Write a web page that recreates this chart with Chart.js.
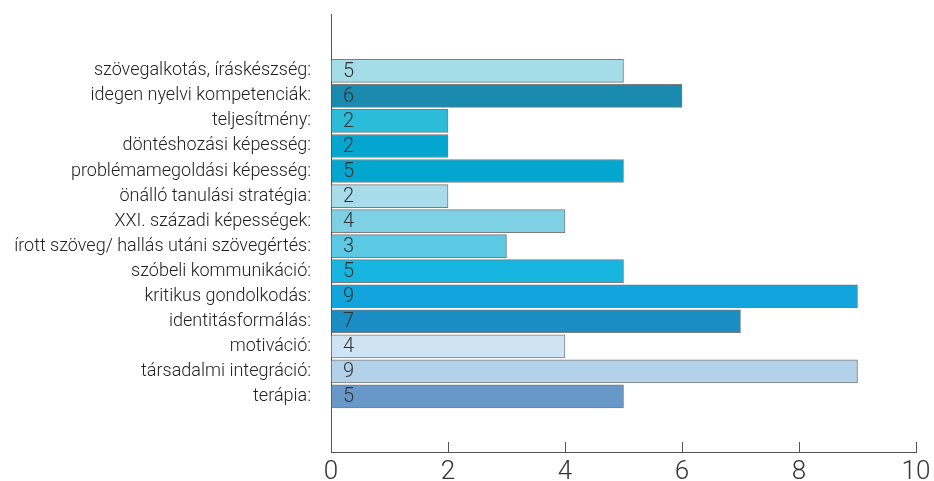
<!DOCTYPE html>
<html>
<head>
<meta charset="utf-8">
<script src="https://cdn.jsdelivr.net/npm/chart.js@4.4.0/dist/chart.umd.min.js"></script>
<style>
  html, body { margin: 0; padding: 0; background: #fff; }
  #wrap { width: 934px; height: 481px; }
</style>
</head>
<body>
<div id="wrap"><canvas id="myChart" width="934" height="481"></canvas></div>
<script>
var categories = [
  'szövegalkotás, íráskészség:',
  'idegen nyelvi kompetenciák:',
  'teljesítmény:',
  'döntéshozási képesség:',
  'problémamegoldási képesség:',
  'önálló tanulási stratégia:',
  'XXI. századi képességek:',
  'írott szöveg/ hallás utáni szövegértés:',
  'szóbeli kommunikáció:',
  'kritikus gondolkodás:',
  'identitásformálás:',
  'motiváció:',
  'társadalmi integráció:',
  'terápia:'
];
var values = [5, 6, 2, 2, 5, 2, 4, 3, 5, 9, 7, 4, 9, 5];
var xTicks = [0, 2, 4, 6, 8, 10];

var barColors = [
  '#a4dce8', '#1b8aaf', '#2bbcda', '#03a6cf', '#03a6cf', '#a8dcea', '#7ed0e5',
  '#5cc9e4', '#17b6e0', '#12a4dd', '#1a8dc4', '#cee4f5', '#b3d1e9', '#6898c8'
];

var fontFam = "'Roboto', 'Liberation Sans', sans-serif";

var valueLabels = {
  id: 'valueLabels',
  afterDatasetsDraw: function(chart) {
    var c = chart.ctx;
    var meta = chart.getDatasetMeta(0);
    c.save();
    c.font = '300 20px ' + fontFam;
    c.fillStyle = '#333';
    c.textAlign = 'left';
    c.textBaseline = 'middle';
    meta.data.forEach(function(bar, i) {
      c.fillText(String(values[i]), bar.base + 12, bar.y + 1);
    });
    c.restore();
  }
};

// x ticks point up into the chart area
var innerTicks = {
  id: 'innerTicks',
  afterDraw: function(chart) {
    var c = chart.ctx;
    var xs = chart.scales.x;
    var bottom = chart.chartArea.bottom;
    c.save();
    c.strokeStyle = '#555';
    c.lineWidth = 1;
    xTicks.forEach(function(t) {
      if (t === 0) return;
      var px = Math.round(xs.getPixelForValue(t)) + 0.5;
      c.beginPath();
      c.moveTo(px, bottom);
      c.lineTo(px, bottom - 10);
      c.stroke();
    });
    c.restore();
  }
};

var ctx = document.getElementById('myChart').getContext('2d');
var chart = new Chart(ctx, {
  type: 'bar',
  data: {
    datasets: [{
      data: values.map(function(v, i) { return { x: v, y: i }; }),
      backgroundColor: barColors,
      borderColor: 'rgba(70,70,70,0.7)',
      borderWidth: 1,
      borderSkipped: false,
      barThickness: 23
    }]
  },
  options: {
    indexAxis: 'y',
    responsive: false,
    animation: false,
    layout: { padding: { top: 14, right: 18, left: 0, bottom: 0 } },
    plugins: {
      legend: { display: false },
      tooltip: { enabled: false }
    },
    scales: {
      x: {
        type: 'linear',
        min: 0,
        max: 10,
        afterBuildTicks: function(s) {
          s.ticks = xTicks.map(function(v) { return { value: v }; });
        },
        afterFit: function(s) {
          s.height = 29;
          s.paddingLeft = 0;
          s.paddingRight = 0;
        },
        grid: { display: false, drawTicks: false },
        border: { display: true, color: '#555', width: 1 },
        ticks: {
          padding: 5,
          color: '#333',
          font: { family: fontFam, size: 26, weight: '300' }
        }
      },
      y: {
        type: 'linear',
        bounds: 'data',
        offset: false,
        reverse: true,
        min: -2.27,
        max: 15.22,
        afterBuildTicks: function(s) {
          s.ticks = categories.map(function(c, i) { return { value: i }; });
        },
        afterFit: function(s) {
          s.width = 331;
          s.paddingTop = 0;
          s.paddingBottom = 0;
        },
        grid: { display: false, drawTicks: false },
        border: { display: true, color: '#555', width: 1 },
        ticks: {
          autoSkip: false,
          padding: 20,
          color: '#222',
          font: { family: fontFam, size: 18, weight: '300' },
          callback: function(v) { return categories[v] || ''; }
        }
      }
    }
  },
  plugins: [valueLabels, innerTicks]
});
</script>
</body>
</html>
